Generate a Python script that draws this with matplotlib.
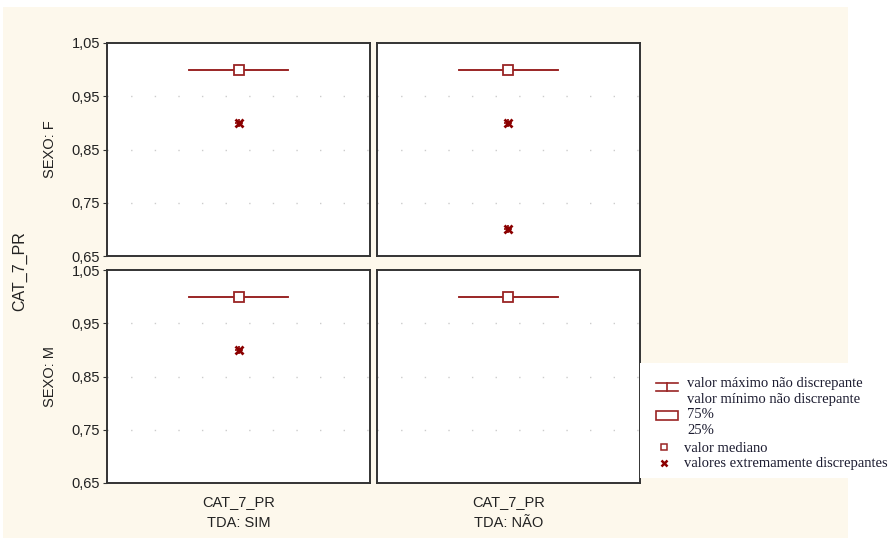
import matplotlib
matplotlib.use('Agg')
import matplotlib.pyplot as plt
from matplotlib import ticker
from matplotlib.patches import Rectangle
from matplotlib.lines import Line2D

# data
rows = ['SEXO: F', 'SEXO: M']
cols = ['TDA: SIM', 'TDA: NÃO']
var = 'CAT_7_PR'
# [row][col]
non_outlier_max = [[1.0, 1.0], [1.0, 1.0]]
non_outlier_min = [[1.0, 1.0], [1.0, 1.0]]
q75 = [[1.0, 1.0], [1.0, 1.0]]
q25 = [[1.0, 1.0], [1.0, 1.0]]
median = [[1.0, 1.0], [1.0, 1.0]]
extremes = [[[0.9], [0.9, 0.7]], [[0.9], []]]
yticks = [0.65, 0.75, 0.85, 0.95, 1.05]
grid_y = [0.75, 0.85, 0.95]

W, H = 894, 542
cream = '#fdf8ec'
red = '#9a2424'
dark = '#8b0000'
sans = 'Liberation Sans'
serif = 'Liberation Serif'
tc = '#222222'

fig = plt.figure(figsize=(W / 100, H / 100), dpi=100, facecolor='white')


def px(x, y):
    return x / W, 1 - y / H


# cream backdrop
fig.patches.append(Rectangle(px(3, 538), 845 / W, 531 / H, transform=fig.transFigure,
                             facecolor=cream, edgecolor='none', zorder=-10))

lefts = [107, 377]
tops = [43, 270]
pw, ph = 263, 213
cx, cap = 0.5, 0.19

for r in range(2):
    for c in range(2):
        l, b = px(lefts[c], tops[r] + ph)
        ax = fig.add_axes([l, b, pw / W, ph / H], facecolor='white')
        ax.set_xlim(0, 1)
        ax.set_ylim(0.65, 1.05)
        for s in ax.spines.values():
            s.set_color('#333333')
            s.set_linewidth(1.4)
        for gy in grid_y:
            ax.axhline(gy, color='#cccccc', lw=1, ls=(0, (1, 16)), zorder=1)
        # whiskers / box collapsed to lines
        ax.plot([cx - cap, cx + cap], [non_outlier_max[r][c]] * 2, color=red, lw=1.2, zorder=2)
        ax.plot([cx - cap, cx + cap], [non_outlier_min[r][c]] * 2, color=red, lw=1.2, zorder=2)
        ax.plot([cx, cx], [q25[r][c], q75[r][c]], color=red, lw=1.2, zorder=2)
        ax.plot(cx, median[r][c], marker='s', ms=6.5, mfc='white', mec=red, mew=1.3,
                ls='none', zorder=3)
        if extremes[r][c]:
            ax.plot([cx] * len(extremes[r][c]), extremes[r][c], marker='x', ms=6, mew=2.0,
                    color=dark, ls='none', zorder=3)
            ax.plot([cx] * len(extremes[r][c]), extremes[r][c], marker='+', ms=6, mew=1.2,
                    color=dark, ls='none', zorder=3)
        ax.set_xticks([])
        ax.yaxis.set_major_locator(ticker.FixedLocator(yticks))
        ax.yaxis.set_major_formatter(lambda v, pos: f'{v:.2f}'.replace('.', ','))
        ax.tick_params(axis='y', length=3, width=0.8, color='#333333', labelsize=10.5,
                       labelcolor=tc, pad=2)
        if c == 1:
            ax.set_yticklabels([])
            ax.tick_params(axis='y', length=0)
        else:
            for t in ax.get_yticklabels():
                t.set_family(sans)
        if r == 1:
            ax.text(0.5, -0.09, var, transform=ax.transAxes, ha='center', va='center',
                    family=sans, fontsize=10.5, color=tc)
            ax.text(0.5, -0.19, cols[c], transform=ax.transAxes, ha='center', va='center',
                    family=sans, fontsize=10.5, color=tc)
        if c == 0:
            ax.text(-0.215, 0.5, rows[r], transform=ax.transAxes, ha='center', va='center',
                    rotation=90, family=sans, fontsize=10.5, color=tc)

fig.text(*px(20, 271), var, rotation=90, ha='center', va='center', family=sans,
         fontsize=11.5, color=tc)

# legend drawn by hand
fig.patches.append(Rectangle(px(640, 478), 254 / W, 115 / H, transform=fig.transFigure,
                             facecolor='white', edgecolor='none', zorder=1))
lkw = dict(transform=fig.transFigure, color=red, lw=1.2)
x0, x1 = 656, 678
fig.lines.append(Line2D([px(x0, 0)[0], px(x1, 0)[0]], [px(0, 383)[1]] * 2, **lkw))
fig.lines.append(Line2D([px(x0, 0)[0], px(x1, 0)[0]], [px(0, 391)[1]] * 2, **lkw))
fig.lines.append(Line2D([px(667, 0)[0]] * 2, [px(0, 383)[1], px(0, 391)[1]], **lkw))
fig.patches.append(Rectangle(px(656, 420), 22 / W, 9 / H, transform=fig.transFigure,
                             facecolor='white', edgecolor=red, lw=1.2, zorder=2))
fig.lines.append(Line2D([px(664, 0)[0]], [px(0, 447)[1]], transform=fig.transFigure,
                        marker='s', ms=4.5, mfc='white', mec=red, mew=1.1, ls='none'))
fig.lines.append(Line2D([px(664, 0)[0]], [px(0, 463)[1]], transform=fig.transFigure,
                        marker='x', ms=4, mew=1.8, color=dark, ls='none'))

legend_items = [
    (384, 'valor máximo não discrepante'),
    (399, 'valor mínimo não discrepante'),
    (414, '75%'),
    (430, '25%'),
    (449, 'valor mediano'),
    (463, 'valores extremamente discrepantes'),
]
for yy, txt in legend_items:
    xx = 684 if yy > 445 else 687
    fig.text(*px(xx, yy), txt, ha='left', va='center', family=serif, fontsize=10.5,
             color='#1c1c30', zorder=3)

fig.savefig('out.png', dpi=100, facecolor='white')
